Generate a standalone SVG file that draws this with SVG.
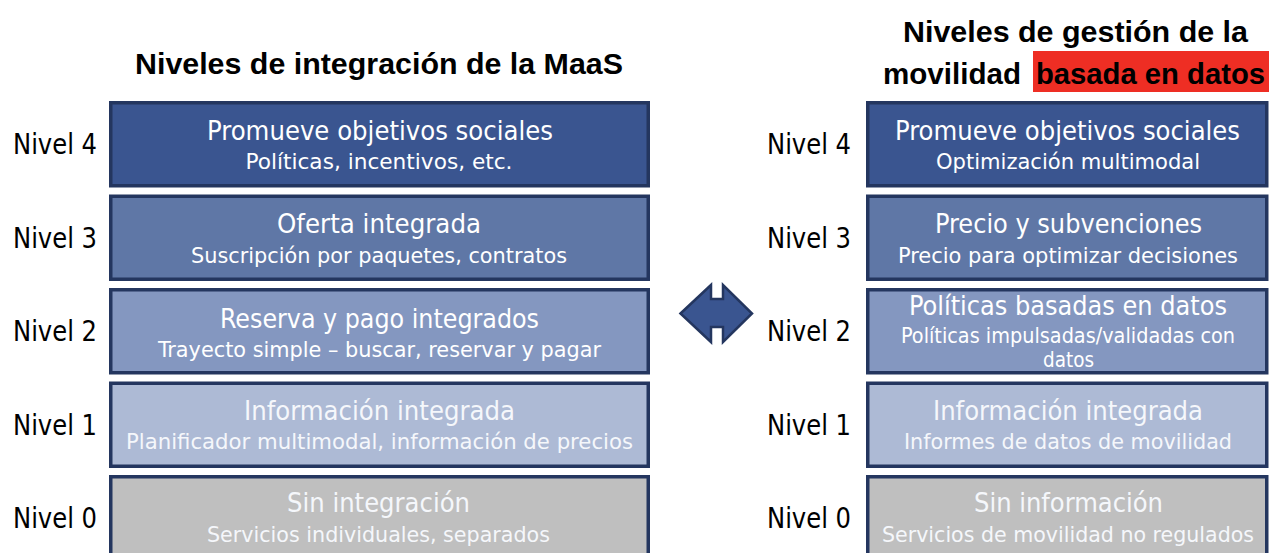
<svg xmlns="http://www.w3.org/2000/svg" width="1269" height="553" viewBox="0 0 1269 553">
<style>
text{font-family:"DejaVu Sans Condensed","DejaVu Sans","Liberation Sans",sans-serif;text-anchor:middle}
.ttl{font-family:"Liberation Sans",Arial,sans-serif;font-weight:bold;font-size:30px;fill:#000}
.lvl{font-size:28px;fill:#000}
.bx{stroke:#24365f;stroke-width:3.5}
.l4{fill:#3a5590}.l3{fill:#5f77a6}.l2{fill:#8497c0}.l1{fill:#adbad5}.l0{fill:#bfbfbf}
.h{font-size:27px;fill:#fff}
.s{font-size:22px;fill:#fff}
.hl{fill:#f5f7fb}
</style>
<rect width="1269" height="553" fill="#fff"/>
<g id="titles">
<text class="ttl" x="379" y="74" textLength="488" lengthAdjust="spacingAndGlyphs">Niveles de integración de la MaaS</text>
<rect x="1033" y="51" width="236" height="41" fill="#ee2e24"/>
<text class="ttl" x="1075.5" y="42" textLength="345" lengthAdjust="spacingAndGlyphs">Niveles de gestión de la</text>
<text class="ttl" x="952" y="84" textLength="138" lengthAdjust="spacingAndGlyphs">movilidad</text>
<text class="ttl" x="1150.5" y="84" textLength="229" lengthAdjust="spacingAndGlyphs">basada en datos</text>
</g>
<g id="labels-left">
<text class="lvl" x="55" y="154" textLength="84" lengthAdjust="spacingAndGlyphs">Nivel 4</text>
<text class="lvl" x="55" y="248" textLength="84" lengthAdjust="spacingAndGlyphs">Nivel 3</text>
<text class="lvl" x="55" y="341" textLength="84" lengthAdjust="spacingAndGlyphs">Nivel 2</text>
<text class="lvl" x="55" y="435" textLength="84" lengthAdjust="spacingAndGlyphs">Nivel 1</text>
<text class="lvl" x="55" y="528" textLength="84" lengthAdjust="spacingAndGlyphs">Nivel 0</text>
</g>
<g id="labels-right">
<text class="lvl" x="809" y="154" textLength="84" lengthAdjust="spacingAndGlyphs">Nivel 4</text>
<text class="lvl" x="809" y="248" textLength="84" lengthAdjust="spacingAndGlyphs">Nivel 3</text>
<text class="lvl" x="809" y="341" textLength="84" lengthAdjust="spacingAndGlyphs">Nivel 2</text>
<text class="lvl" x="809" y="435" textLength="84" lengthAdjust="spacingAndGlyphs">Nivel 1</text>
<text class="lvl" x="809" y="528" textLength="84" lengthAdjust="spacingAndGlyphs">Nivel 0</text>
</g>
<g id="maas-4">
<rect class="bx l4" x="110.75" y="102.75" width="537.5" height="83"/>
<text class="h" x="380" y="140" textLength="346" lengthAdjust="spacingAndGlyphs">Promueve objetivos sociales</text>
<text class="s" x="379" y="169" textLength="267" lengthAdjust="spacingAndGlyphs">Políticas, incentivos, etc.</text>
</g>
<g id="maas-3">
<rect class="bx l3" x="110.75" y="196.25" width="537.5" height="83"/>
<text class="h" x="379" y="233" textLength="204" lengthAdjust="spacingAndGlyphs">Oferta integrada</text>
<text class="s" x="379" y="263" textLength="376" lengthAdjust="spacingAndGlyphs">Suscripción por paquetes, contratos</text>
</g>
<g id="maas-2">
<rect class="bx l2" x="110.75" y="289.75" width="537.5" height="83"/>
<text class="h" x="379.5" y="328" textLength="319" lengthAdjust="spacingAndGlyphs">Reserva y pago integrados</text>
<text class="s" x="379.5" y="357" textLength="443" lengthAdjust="spacingAndGlyphs">Trayecto simple – buscar, reservar y pagar</text>
</g>
<g id="maas-1">
<rect class="bx l1" x="110.75" y="383.25" width="537.5" height="83"/>
<text class="h hl" x="379.5" y="420" textLength="271" lengthAdjust="spacingAndGlyphs">Información integrada</text>
<text class="s hl" x="379.5" y="449" textLength="507" lengthAdjust="spacingAndGlyphs">Planificador multimodal, información de precios</text>
</g>
<g id="maas-0">
<rect class="bx l0" x="110.75" y="476.75" width="537.5" height="83"/>
<text class="h hl" x="378.5" y="512" textLength="183" lengthAdjust="spacingAndGlyphs">Sin integración</text>
<text class="s hl" x="378.5" y="542" textLength="343" lengthAdjust="spacingAndGlyphs">Servicios individuales, separados</text>
</g>
<g id="data-4">
<rect class="bx l4" x="867.75" y="102.75" width="399" height="83"/>
<text class="h" x="1067.5" y="140" textLength="345" lengthAdjust="spacingAndGlyphs">Promueve objetivos sociales</text>
<text class="s" x="1068" y="169" textLength="264" lengthAdjust="spacingAndGlyphs">Optimización multimodal</text>
</g>
<g id="data-3">
<rect class="bx l3" x="867.75" y="196.25" width="399" height="83"/>
<text class="h" x="1068.5" y="233" textLength="267" lengthAdjust="spacingAndGlyphs">Precio y subvenciones</text>
<text class="s" x="1068" y="263" textLength="340" lengthAdjust="spacingAndGlyphs">Precio para optimizar decisiones</text>
</g>
<g id="data-2">
<rect class="bx l2" x="867.75" y="289.75" width="399" height="83"/>
<text class="h" x="1068" y="315" textLength="318" lengthAdjust="spacingAndGlyphs">Políticas basadas en datos</text>
<text class="s" x="1068" y="343" textLength="334" lengthAdjust="spacingAndGlyphs">Políticas impulsadas/validadas con</text>
<text class="s" x="1068.5" y="367" textLength="51" lengthAdjust="spacingAndGlyphs">datos</text>
</g>
<g id="data-1">
<rect class="bx l1" x="867.75" y="383.25" width="399" height="83"/>
<text class="h hl" x="1068" y="420" textLength="270" lengthAdjust="spacingAndGlyphs">Información integrada</text>
<text class="s hl" x="1068" y="449" textLength="328" lengthAdjust="spacingAndGlyphs">Informes de datos de movilidad</text>
</g>
<g id="data-0">
<rect class="bx l0" x="867.75" y="476.75" width="399" height="83"/>
<text class="h hl" x="1068.5" y="512" textLength="189" lengthAdjust="spacingAndGlyphs">Sin información</text>
<text class="s hl" x="1068" y="542" textLength="372" lengthAdjust="spacingAndGlyphs">Servicios de movilidad no regulados</text>
</g>
<g id="connectors">
<path d="M680.5,313.5 L711,285 L711,299 L723,299 L723,285 L752,313.5 L723,342 L723,327 L711,327 L711,342 Z" fill="#3a5590" stroke="#24365f" stroke-width="2.5" stroke-linejoin="miter"/>
</g>
</svg>
